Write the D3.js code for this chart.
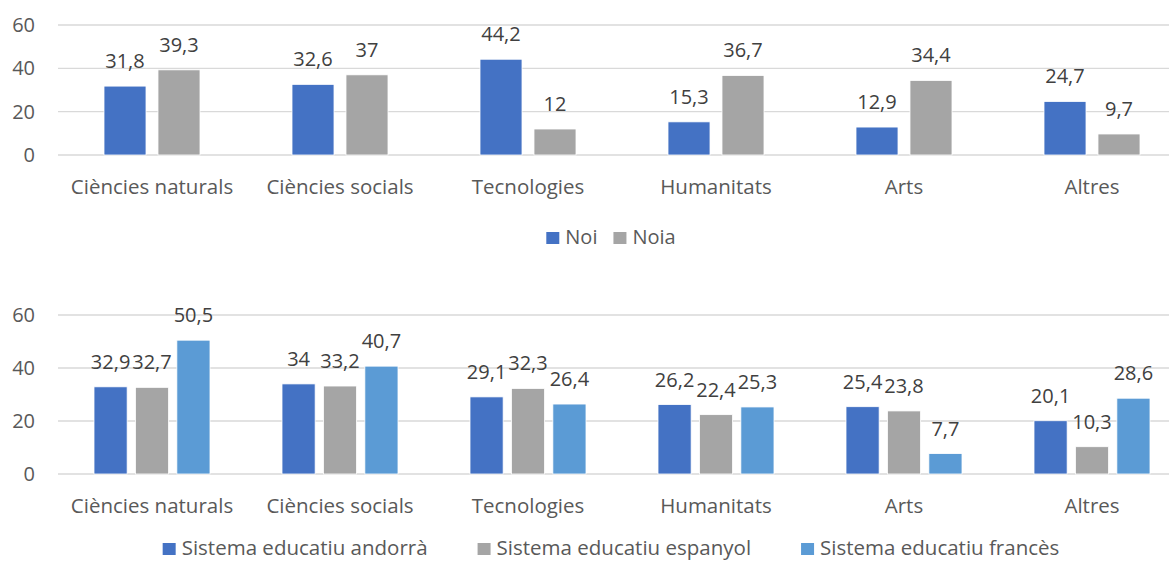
<!DOCTYPE html>
<html>
<head>
<meta charset="utf-8">
<script src="https://cdn.jsdelivr.net/npm/d3@7"></script>
<style>
  body { margin: 0; background: #fff; }
  svg text { font-family: "Open Sans", sans-serif; }
</style>
</head>
<body>
<div id="chart"></div>
<script>
/* DATA */
const categories = ["Ciències naturals", "Ciències socials", "Tecnologies", "Humanitats", "Arts", "Altres"];

const genderSeries = ["Noi", "Noia"];
const noiValues = [31.8, 32.6, 44.2, 15.3, 12.9, 24.7];
const noiaValues = [39.3, 37, 12, 36.7, 34.4, 9.7];

const systemSeries = ["Sistema educatiu andorrà", "Sistema educatiu espanyol", "Sistema educatiu francès"];
const andorraValues = [32.9, 34, 29.1, 26.2, 25.4, 20.1];
const espanyolValues = [32.7, 33.2, 32.3, 22.4, 23.8, 10.3];
const francesValues = [50.5, 40.7, 26.4, 25.3, 7.7, 28.6];

const yTicks = [0, 20, 40, 60];

/* CONSTANTS */
const width = 1169,
  height = 562;
const colors = ["#4472C4", "#A5A5A5", "#5B9BD5"];
const axisColor = "#595959";
const labelColor = "#404040";
const gridColor = "#D9D9D9";

const svg = d3.select("#chart")
  .append("svg")
  .attr("width", width)
  .attr("height", height);

// x band for the categories, the plot runs past the right edge (cropped in the original)
const xScale = d3.scaleBand()
  .domain(categories)
  .range([58, 1186])
  .paddingInner(0)
  .paddingOuter(0);

const fmt = v => String(v).replace(".", ",");

function drawPanel(opts) {
  const { series, values, yTop, yBottom, groupWidth, innerPad, catY, legendY, legendGap, legendSize } = opts;

  const yScale = d3.scaleLinear().domain([0, 60]).range([yBottom, yTop]);
  const x1 = d3.scaleBand()
    .domain(series)
    .range([0, groupWidth])
    .paddingInner(innerPad);

  const g = svg.append("g");

  // gridlines
  g.selectAll("line.grid")
    .data(yTicks)
    .join("line")
    .attr("class", "grid")
    .attr("x1", xScale.range()[0])
    .attr("x2", xScale.range()[1])
    .attr("y1", d => yScale(d))
    .attr("y2", d => yScale(d))
    .attr("stroke", gridColor)
    .attr("stroke-width", 1.3);

  // y tick labels
  g.selectAll("text.ytick")
    .data(yTicks)
    .join("text")
    .attr("class", "ytick")
    .attr("x", 35)
    .attr("y", d => yScale(d))
    .attr("dy", "0.35em")
    .attr("text-anchor", "end")
    .attr("fill", axisColor)
    .style("font-size", "20px")
    .text(d => d);

  // category labels
  g.selectAll("text.cat")
    .data(categories)
    .join("text")
    .attr("class", "cat")
    .attr("x", d => xScale(d) + xScale.bandwidth() / 2)
    .attr("y", catY)
    .attr("text-anchor", "middle")
    .attr("fill", axisColor)
    .style("font-size", "20.5px")
    .text(d => d);

  const rows = [];
  categories.forEach((c, i) => {
    series.forEach((s, j) => {
      rows.push({ cat: c, series: s, idx: j, value: values[j][i] });
    });
  });

  const offset = (xScale.bandwidth() - groupWidth) / 2;

  // bars
  g.selectAll("rect.bar")
    .data(rows)
    .join("rect")
    .attr("class", "bar")
    .attr("x", d => xScale(d.cat) + offset + x1(d.series))
    .attr("y", d => yScale(d.value))
    .attr("width", x1.bandwidth())
    .attr("height", d => yScale(0) - yScale(d.value))
    .attr("fill", d => colors[d.idx])
    .attr("stroke", "#fff")
    .attr("stroke-width", 0.8);

  // value labels
  g.selectAll("text.val")
    .data(rows)
    .join("text")
    .attr("class", "val")
    .attr("x", d => xScale(d.cat) + offset + x1(d.series) + x1.bandwidth() / 2)
    .attr("y", d => yScale(d.value) - 18)
    .attr("text-anchor", "middle")
    .attr("fill", labelColor)
    .style("font-size", "20px")
    .text(d => fmt(d.value));

  // legend, laid out from text widths and centred
  const leg = g.append("g");
  const items = leg.selectAll("g.item")
    .data(series)
    .join("g")
    .attr("class", "item");
  items.append("rect")
    .attr("width", 13)
    .attr("height", 12)
    .attr("y", legendY - 12)
    .attr("fill", (d, i) => colors[i]);
  items.append("text")
    .attr("x", 19)
    .attr("y", legendY)
    .attr("fill", axisColor)
    .style("font-size", legendSize)
    .text(d => d);

  let cursor = 0;
  const starts = [];
  items.each(function() {
    starts.push(cursor);
    const w = d3.select(this).select("text").node().getComputedTextLength();
    cursor += 19 + w + legendGap;
  });
  const total = cursor - legendGap;
  const left = 611 - total / 2;
  items.attr("transform", (d, i) => `translate(${left + starts[i]},0)`);
}

drawPanel({
  series: genderSeries,
  values: [noiValues, noiaValues],
  yTop: 25,
  yBottom: 155,
  groupWidth: 96,
  innerPad: 0.222,
  catY: 194,
  legendY: 244,
  legendGap: 16,
  legendSize: "20px"
});

drawPanel({
  series: systemSeries,
  values: [andorraValues, espanyolValues, francesValues],
  yTop: 315,
  yBottom: 474,
  groupWidth: 116,
  innerPad: 0.2,
  catY: 513,
  legendY: 555,
  legendGap: 50,
  legendSize: "20.5px"
});
</script>
</body>
</html>
